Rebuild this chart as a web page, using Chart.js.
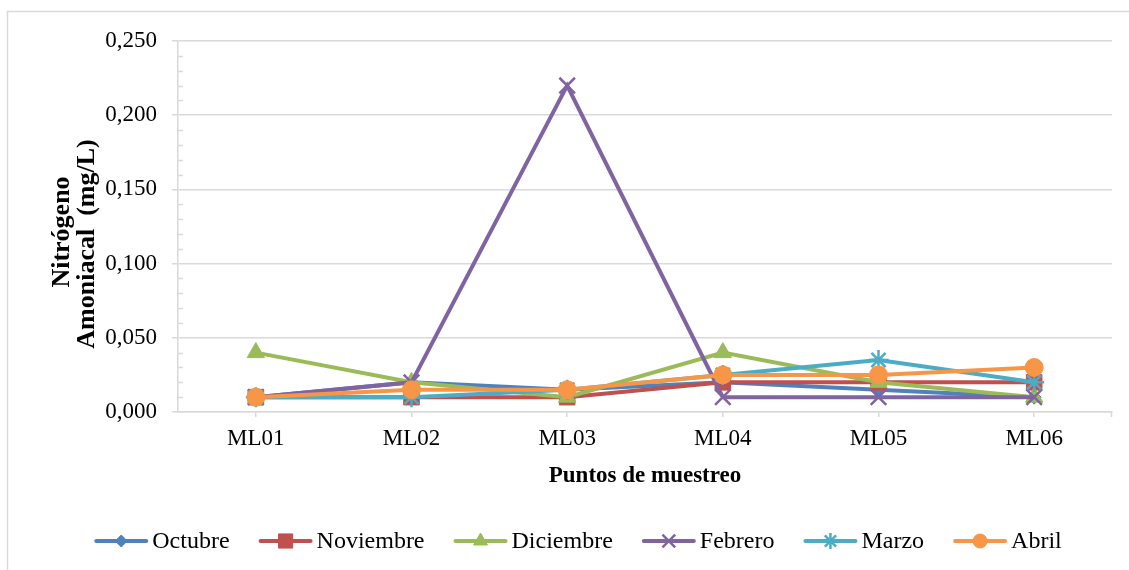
<!DOCTYPE html>
<html>
<head>
<meta charset="utf-8">
<script src="https://cdn.jsdelivr.net/npm/chart.js@4/dist/chart.umd.min.js"></script>
<style>
  html, body { margin: 0; padding: 0; background: #fff; }
  #wrap { width: 1129px; height: 570px; position: relative; }
</style>
</head>
<body>
<div id="wrap"><canvas id="c" width="1129" height="570"></canvas></div>
<script>
// Sampling points and monthly ammonia nitrogen readings (mg/L)
const puntos    = ['ML01', 'ML02', 'ML03', 'ML04', 'ML05', 'ML06'];
const octubre   = [0.010, 0.020, 0.015, 0.020, 0.015, 0.010];
const noviembre = [0.010, 0.010, 0.010, 0.020, 0.020, 0.020];
const diciembre = [0.040, 0.020, 0.010, 0.040, 0.020, 0.010];
const febrero   = [0.010, 0.020, 0.220, 0.010, 0.010, 0.010];
const marzo     = [0.010, 0.010, 0.015, 0.025, 0.035, 0.020];
const abril     = [0.010, 0.015, 0.015, 0.025, 0.025, 0.030];

const meses   = ['Octubre', 'Noviembre', 'Diciembre', 'Febrero', 'Marzo', 'Abril'];
const valores = [octubre, noviembre, diciembre, febrero, marzo, abril];

// Value axis: major every 0,050, minor every 0,010
const yMin = 0, yMax = 0.25, yMajor = 0.05, yMinor = 0.01;
const tituloY = ['Nitrógeno', 'Amoniacal  (mg/L)'];
const tituloX = 'Puntos de muestreo';

const FONT = '"Liberation Serif", "Times New Roman", serif';
const GRID = '#d9d9d9';

const estilos = [
  { color: '#4F81BD', pointStyle: 'rectRot',  radius: 7,  bw: 1,   legendRadius: 6 },
  { color: '#C0504D', pointStyle: 'rect',     radius: 11, bw: 1,   legendRadius: 10 },
  { color: '#9BBB59', pointStyle: 'triangle', radius: 10, bw: 1,   legendRadius: 8 },
  { color: '#8064A2', pointStyle: 'crossRot', radius: 11, bw: 2.5, legendRadius: 9 },
  { color: '#4BACC6', pointStyle: 'star',     radius: 10, bw: 2.5, legendRadius: 8 },
  { color: '#F79646', pointStyle: 'circle',   radius: 9,  bw: 1,   legendRadius: 7 }
];

const datasets = meses.map((m, i) => ({
  label: m,
  data: valores[i],
  borderColor: estilos[i].color,
  backgroundColor: estilos[i].color,
  pointBackgroundColor: estilos[i].color,
  pointBorderColor: estilos[i].color,
  pointStyle: estilos[i].pointStyle,
  pointRadius: estilos[i].radius,
  pointBorderWidth: estilos[i].bw,
  borderWidth: 4,
  tension: 0,
  clip: false,
  order: meses.length - i   // later months are drawn on top
}));

const fmt = v => v.toFixed(3).replace('.', ',');

// Frame, minor ticks, two-line value-axis title and the line+marker legend
const decor = {
  id: 'decor',
  beforeDraw(chart) {
    const c = chart.ctx;
    c.save();
    c.fillStyle = '#fff';
    c.fillRect(0, 0, chart.width, chart.height);
    c.strokeStyle = GRID;
    c.lineWidth = 1.5;
    c.strokeRect(7.5, 11.5, 1300, 700);
    c.restore();
  },
  beforeDatasetsDraw(chart) {
    const c = chart.ctx, y = chart.scales.y, x = chart.scales.x;
    c.save();
    c.strokeStyle = GRID;
    c.lineWidth = 1.5;
    c.beginPath();
    const n = Math.round((yMax - yMin) / yMinor);
    for (let k = 0; k <= n; k++) {
      const v = yMin + k * yMinor;
      if (k % Math.round(yMajor / yMinor) === 0) continue;
      const py = Math.round(y.getPixelForValue(v)) + 0.5;
      c.moveTo(x.left, py);
      c.lineTo(x.left + 5, py);
    }
    // closing tick at the right end of the category axis
    const r = Math.round(x.right) - 0.5;
    c.moveTo(r, y.bottom);
    c.lineTo(r, y.bottom + 5);
    c.stroke();
    c.restore();
  },
  afterDraw(chart) {
    const c = chart.ctx;
    c.save();

    // value-axis title, rotated, one line per entry
    c.font = 'bold 26px ' + FONT;
    c.fillStyle = '#000';
    c.textAlign = 'center';
    c.textBaseline = 'middle';
    const tpos = [[62, 232], [87, 244]];
    tituloY.forEach((t, i) => {
      c.save();
      c.translate(tpos[i][0], tpos[i][1]);
      c.rotate(-Math.PI / 2);
      c.fillText(t, 0, 0);
      c.restore();
    });

    // legend
    c.font = '24px ' + FONT;
    const LINE = 54, GAP = 4, SEP = 29;
    const ds = chart.data.datasets;
    const widths = ds.map(d => c.measureText(d.label).width);
    let total = 0;
    widths.forEach(w => { total += LINE + GAP + w; });
    total += SEP * (ds.length - 1);
    let x = 578 - total / 2;
    const y = 541;
    ds.forEach((d, i) => {
      const st = estilos[i];
      c.strokeStyle = st.color;
      c.fillStyle = st.color;
      c.lineWidth = 4;
      c.lineCap = 'round';
      c.beginPath();
      c.moveTo(x + 2, y);
      c.lineTo(x + LINE - 2, y);
      c.stroke();
      c.lineCap = 'butt';
      c.lineWidth = st.bw;
      Chart.helpers.drawPoint(c, {
        pointStyle: st.pointStyle,
        radius: st.legendRadius,
        rotation: 0,
        borderWidth: st.bw
      }, x + LINE / 2, y);
      c.fillStyle = '#000';
      c.textBaseline = 'middle';
      c.textAlign = 'left';
      c.fillText(d.label, x + LINE + GAP, y + 1);
      x += LINE + GAP + widths[i] + SEP;
    });
    c.restore();
  }
};

new Chart(document.getElementById('c'), {
  type: 'line',
  data: { labels: puntos, datasets },
  options: {
    responsive: false,
    devicePixelRatio: 1,
    animation: false,
    layout: { padding: { left: 0, right: 17, top: 41, bottom: 77 } },
    plugins: {
      legend: { display: false },
      tooltip: { enabled: false }
    },
    scales: {
      x: {
        type: 'category',
        offset: true,
        grid: {
          display: true,
          drawOnChartArea: false,
          offset: false,
          tickLength: 5,
          color: GRID,
          lineWidth: 1.5
        },
        border: { display: true, color: GRID, width: 1.5 },
        ticks: { font: { family: FONT, size: 23 }, color: '#000', padding: 8 },
        title: {
          display: true,
          text: tituloX,
          font: { family: FONT, size: 23, weight: 'bold' },
          color: '#000',
          padding: { top: 0, bottom: 3 }
        },
        afterFit(s) { s.height = 81; }
      },
      y: {
        min: yMin,
        max: yMax,
        ticks: {
          stepSize: yMajor,
          font: { family: FONT, size: 23 },
          color: '#000',
          padding: 15,
          callback: v => fmt(v)
        },
        grid: { color: GRID, lineWidth: 1.5, tickLength: 6 },
        border: { display: true, color: GRID, width: 1.5 },
        title: { display: false },
        afterFit(s) { s.width = 178; }
      }
    }
  },
  plugins: [decor]
});
</script>
</body>
</html>
